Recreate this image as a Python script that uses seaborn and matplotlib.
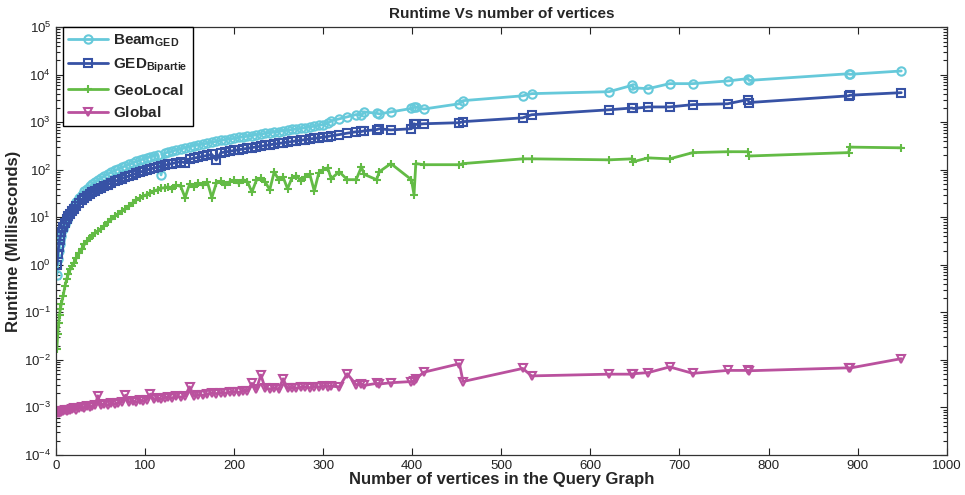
import numpy as np
import pandas as pd
import matplotlib
matplotlib.use('Agg')
import matplotlib.pyplot as plt
import seaborn as sns
from matplotlib.ticker import LogLocator, NullFormatter, MultipleLocator

# number of vertices of each query graph (same graphs for all methods)
vertices = [1, 2, 3, 4, 5, 6, 8, 10, 12, 14, 16, 18, 20, 23, 26, 29, 32, 35, 38, 41,
            44, 47, 50, 54, 58, 62, 66, 70, 74, 78, 82, 86, 90, 94, 98, 102, 106, 110, 114, 118,
            122, 126, 130, 135, 140, 145, 150, 155, 160, 165, 170, 175, 180, 185, 190, 195, 200, 205, 210, 215,
            220, 225, 230, 235, 240, 245, 250, 255, 260, 265, 270, 275, 280, 285, 290, 295, 300, 305,
            309, 318, 327, 337, 343, 346, 360, 363, 376, 399, 402, 404, 413, 453, 457,
            524, 534, 621, 647, 648, 665, 689, 715, 754, 777, 778, 890, 891, 949]

# runtimes in milliseconds
beam_ged = [0.6, 1.3, 2.0, 2.7, 3.3, 4.1, 5.6, 7.2, 8.8, 10.5, 12.5, 14.5, 17, 21, 25, 30, 35, 40, 45, 50,
            56, 60, 66, 73, 81, 88, 97, 104, 113, 120, 130, 138, 150, 160, 168, 178, 188, 196, 207, 78,
            224, 236, 244, 262, 272, 290, 302, 322, 333, 350, 362, 385, 396, 418, 428, 447, 458, 480, 490, 512,
            522, 548, 560, 588, 598, 625, 636, 665, 676, 705, 718, 750, 765, 805, 822, 870, 885, 950,
            1070, 1180, 1300, 1450, 1400, 1650, 1550, 1500, 1650, 1950, 2050, 2100, 1900, 2450, 2850,
            3600, 4000, 4400, 6000, 5300, 5100, 6500, 6500, 7400, 8300, 7600, 10500, 10200, 12000]

ged_bipartie = [1.0, 1.7, 2.4, 3.3, 4.0, 4.8, 6.3, 7.6, 9.0, 10.5, 12, 13.5, 15, 17.5, 20, 23, 25.5, 28, 31, 33.5,
                36, 39, 41.5, 45, 49, 53, 57, 61, 65, 70, 74, 79, 84, 89, 94, 99, 104, 109, 114, 119,
                124, 130, 135, 142, 149, 140, 168, 176, 184, 192, 201, 210, 160, 228, 237, 246, 255, 264, 273, 283,
                293, 303, 314, 325, 336, 347, 358, 370, 382, 394, 406, 419, 432, 445, 458, 472, 486, 500,
                520, 550, 590, 630, 640, 660, 700, 730, 690, 730, 930, 900, 930, 980, 1030,
                1240, 1440, 1830, 2000, 1950, 2100, 2100, 2350, 2450, 3000, 2600, 3600, 3700, 4200]

geo_local = [0.017, 0.035, 0.06, 0.09, 0.12, 0.15, 0.22, 0.35, 0.5, 0.65, 0.8, 0.95, 1.1, 1.4, 1.8, 2.2, 2.7, 3.1, 3.6, 4.1,
             4.6, 5.1, 5.6, 6.6, 7.8, 9.0, 10.5, 12, 13.5, 15, 17, 20, 23, 25, 28, 30, 33, 36, 38, 41,
             42, 44, 40, 47, 45, 26, 50, 44, 52, 47, 55, 26, 52, 58, 48, 56, 60, 52, 62, 56,
             34, 60, 66, 55, 38, 90, 62, 70, 40, 68, 75, 58, 72, 80, 36, 85, 100, 110,
             65, 91, 62, 62, 115, 80, 62, 91, 135, 62, 30, 135, 128, 128, 135,
             170, 170, 162, 170, 148, 178, 170, 230, 240, 240, 195, 230, 300, 290]

global_ = [0.00078, 0.00082, 0.00076, 0.00080, 0.00084, 0.00079, 0.00083, 0.00088, 0.00082, 0.00090,
           0.00086, 0.00092, 0.00095, 0.00090, 0.00098, 0.00102, 0.00096, 0.00105, 0.00100, 0.00108,
           0.00112, 0.00175, 0.00110, 0.00118, 0.00112, 0.00122, 0.00118, 0.00125, 0.00130, 0.00180,
           0.00128, 0.00135, 0.00130, 0.00140, 0.00136, 0.00145, 0.00190, 0.00148, 0.00155, 0.00150,
           0.00160, 0.00165, 0.00158, 0.00170, 0.00165, 0.00175, 0.00270, 0.00175, 0.00185, 0.00180,
           0.00190, 0.00200, 0.00195, 0.00205, 0.00200, 0.00210, 0.00215, 0.00208, 0.00220, 0.00225,
           0.00320, 0.00240, 0.00480, 0.00250, 0.00245, 0.00255, 0.00240, 0.00400, 0.00250, 0.00260,
           0.00255, 0.00265, 0.00270, 0.00260, 0.00275, 0.00270, 0.00280, 0.00275,
           0.0028, 0.0027, 0.0051, 0.0030, 0.0031, 0.0029, 0.0032, 0.0031, 0.0033, 0.0035, 0.0036, 0.0040, 0.0055, 0.0083, 0.0035,
           0.0066, 0.0046, 0.0050, 0.0050, 0.0051, 0.0054, 0.0071, 0.0052, 0.0060, 0.0060, 0.0059, 0.0068, 0.0067, 0.0106]

labels = [r'$\mathbf{Beam}_{\mathbf{GED}}$', r'$\mathbf{GED}_{\mathbf{Bipartie}}$',
          r'$\mathbf{GeoLocal}$', r'$\mathbf{Global}$']

sns.set_style('ticks')
plt.rcParams['font.family'] = ['Liberation Sans', 'DejaVu Sans']
plt.rcParams['mathtext.fontset'] = 'custom'
plt.rcParams['mathtext.rm'] = 'Liberation Sans'
plt.rcParams['mathtext.bf'] = 'Liberation Sans:bold'
plt.rcParams['mathtext.it'] = 'Liberation Sans:italic'

df = pd.DataFrame({'vertices': vertices, 'beam': beam_ged, 'ged': ged_bipartie,
                   'geo': geo_local, 'glob': global_})

fig, ax = plt.subplots(figsize=(9.65, 4.95), dpi=100)
fig.subplots_adjust(left=0.058, right=0.981, top=0.945, bottom=0.081)

series = [('beam', '#66C9DA', 'o'), ('ged', '#3752A5', 's'),
          ('geo', '#63BB45', '+'), ('glob', '#BA519E', 'v')]
for (col, color, mk), lab in zip(series, labels):
    sns.lineplot(data=df, x='vertices', y=col, ax=ax, estimator=None, sort=False,
                 color=color, linewidth=2, marker=mk, markersize=6,
                 markerfacecolor='none', markeredgecolor=color,
                 markeredgewidth=1.5, label=lab)

ax.set_yscale('log')
ax.set_xlim(0, 1000)
ax.set_ylim(1e-4, 1e5)
ax.xaxis.set_major_locator(MultipleLocator(100))
ax.yaxis.set_major_locator(LogLocator(base=10, numticks=12))
ax.yaxis.set_minor_locator(LogLocator(base=10, subs=np.arange(2, 10), numticks=12))
ax.yaxis.set_minor_formatter(NullFormatter())
ax.tick_params(which='both', direction='in', top=True, right=True, colors='#222222',
               labelsize=9.5, width=0.8)
ax.tick_params(which='major', length=5)
ax.tick_params(which='minor', length=3)
for sp in ax.spines.values():
    sp.set_color('#333333')
    sp.set_linewidth(0.9)

ax.set_title('Runtime Vs number of vertices', fontsize=11, fontweight='bold', pad=7)
ax.set_xlabel('Number of vertices in the Query Graph', fontsize=12, fontweight='bold', labelpad=0)
ax.set_ylabel('Runtime (Milliseconds)', fontsize=12, fontweight='bold', labelpad=2)

leg = ax.legend(loc='upper left', bbox_to_anchor=(0.008, 1.0), borderaxespad=0,
                fancybox=False, edgecolor='black', framealpha=1, fontsize=11,
                handlelength=2.6, labelspacing=0.5, borderpad=0.35, handletextpad=0.3)
leg.get_frame().set_linewidth(1.0)

plt.savefig('out.png', dpi=100)
